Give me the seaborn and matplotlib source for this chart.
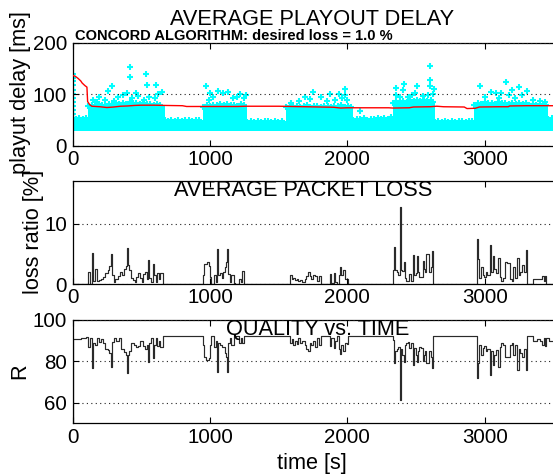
import matplotlib
matplotlib.use('Agg')
import matplotlib.pyplot as plt
import seaborn as sns

# ---------------- data ----------------
x_ticks = [0, 1000, 2000, 3000]

# playout delay: dense packet-delay band (upper envelope of the cyan cloud) + sparse individual delays
band_t = [0, 25, 50, 75, 100,
          115, 140, 165, 190, 215, 240, 265, 290, 315, 340, 365, 390, 415, 440, 465, 490, 515, 540, 565, 590, 615, 640,
          670, 695, 720, 745, 770, 795, 820, 845, 870, 895, 920,
          950, 975, 1000, 1025, 1050, 1075, 1100, 1125, 1150, 1175, 1200, 1225, 1250,
          1272, 1297, 1322, 1347, 1372, 1397, 1422, 1447, 1472, 1497, 1522,
          1556, 1581, 1606, 1631, 1656, 1681, 1706, 1731, 1756, 1781, 1806, 1831, 1856, 1881, 1906, 1931, 1956, 1981, 2006, 2025,
          2044, 2069, 2094, 2119, 2144, 2169, 2194, 2219, 2244, 2269, 2294, 2315,
          2331, 2356, 2381, 2406, 2431, 2456, 2481, 2506, 2531, 2556, 2581, 2606, 2620,
          2635, 2660, 2685, 2710, 2735, 2760, 2785, 2810, 2835, 2860, 2885, 2905,
          2924, 2949, 2974, 2999, 3024, 3049, 3074, 3099, 3124, 3149, 3174, 3199, 3224, 3249, 3274, 3299, 3324, 3349, 3374, 3399, 3424, 3445,
          3460, 3485, 3500]
band_top = [55, 52, 54, 53, 55,
            77, 80, 78, 81, 79, 78, 82, 80, 83, 81, 84, 82, 85, 83, 84, 82, 83, 81, 82, 80, 81, 79,
            50, 48, 51, 49, 50, 48, 51, 50, 49, 51, 50,
            76, 79, 78, 80, 79, 81, 80, 82, 79, 80, 78, 81, 79,
            47, 49, 46, 48, 47, 49, 48, 46, 49, 47, 48,
            75, 77, 76, 78, 76, 77, 79, 76, 78, 77, 76, 78, 77, 76, 78, 77, 79, 76, 77, 75,
            51, 53, 52, 54, 51, 53, 52, 55, 53, 54, 52, 56,
            84, 87, 85, 88, 86, 89, 87, 90, 88, 89, 87, 90, 86,
            46, 48, 47, 49, 46, 48, 47, 49, 48, 47, 49, 48,
            80, 83, 82, 85, 83, 84, 82, 85, 83, 84, 82, 83, 81, 84, 82, 83, 80, 82, 80, 81, 79, 80,
            52, 54, 53]
band_low = 30

pts_t = [3, 3, 5, 3, 6, 3, 5, 7, 3, 5, 4,
         419, 419, 536, 609, 543, 652, 286, 256, 397, 463, 193, 147, 330, 370, 480, 560, 620, 240, 300, 430, 600, 520, 180,
         973, 1058, 1131, 997, 1216, 1265, 1094, 1168, 1020, 1200, 990, 1250,
         1593, 1690, 1726, 1753, 1806, 1875, 1940, 1984, 1984, 2000, 1911, 1650, 1850, 1960,
         2093,
         2353, 2409, 2405, 2353, 2470, 2506, 2598, 2598, 2598, 2628, 2586, 2489, 2380, 2440, 2550, 2620,
         2961, 3048, 3082, 3119, 3157, 3194, 3247, 3303, 3271, 3174, 3000, 3100, 3220, 3350, 3400, 3440]
pts_v = [140, 132, 125, 118, 108, 100, 92, 85, 78, 70, 62,
         152, 134, 139, 118, 118, 104.5, 116.8, 107, 102, 103, 95.5, 89, 95, 98, 96, 95, 100, 90, 88, 92, 92, 90, 85,
         117, 107, 104, 102, 101, 99.5, 102, 92.5, 95, 95, 90, 92,
         82.6, 94, 91, 105, 95.5, 100.7, 100.7, 109.6, 99, 89, 90, 88, 88, 92,
         68.4,
         113, 121, 108, 99, 99, 116.6, 155.5, 127.8, 116, 109.6, 99, 103, 95, 95, 97, 100,
         116.6, 103.6, 102.4, 102.4, 123.5, 108.6, 115, 107, 99, 99, 95, 92, 93, 90, 88, 85]

avg_t = [0, 20, 40, 60, 70, 90, 105, 110, 125, 140, 200, 250, 300, 350, 400, 450, 500, 600, 680,
         800, 830, 1000, 1200, 1260, 1500, 1700, 1900, 1950, 2000, 2100, 2300, 2330, 2450, 2480,
         2600, 2650, 2700, 2850, 2870, 2930, 2960, 3100, 3170, 3180, 3300, 3500]
avg_v = [137, 135, 131, 126, 122, 117, 114, 86, 80, 77, 76, 74.5, 75.5, 77, 77.5, 78.5, 79, 79, 78.5,
         78, 76.5, 76.5, 76.5, 77, 77, 76, 75, 73.5, 74, 74, 74, 73.5, 74, 75.5,
         76, 77, 76, 75.5, 72.5, 73, 75.5, 76, 76, 77.5, 78, 78]

# packet loss ratio [%]
loss_t = [0, 112, 125, 143, 150, 163, 175, 190, 208, 222, 240, 255, 268, 282, 290, 300, 312, 330, 348, 360,
          372, 388, 395, 402, 412, 422, 440, 455, 465, 475, 490, 505, 515, 528, 540, 550, 557, 570, 585,
          593, 605, 615, 628, 640, 660,
          950, 960, 975, 990, 1000, 1010, 1032, 1046, 1052, 1060, 1072, 1086, 1096, 1106, 1116, 1126, 1134,
          1144, 1152, 1172, 1182, 1214, 1226, 1236, 1246,
          1582, 1596, 1606, 1618, 1632, 1644, 1658, 1672, 1690, 1700, 1712, 1728, 1738, 1752, 1766, 1780,
          1792, 1806, 1870, 1880, 1900, 1910, 1925, 1938, 1946, 1956, 1970, 1980, 1996, 2006,
          2331, 2340, 2348, 2358, 2370, 2384, 2391, 2400, 2410, 2418, 2428, 2440, 2450, 2466, 2474, 2482,
          2496, 2504, 2512, 2520, 2535, 2548, 2558, 2566, 2574, 2590, 2605, 2614, 2624,
          2940, 2950, 2960, 2972, 2985, 2995, 3005, 3018, 3038, 3048, 3060, 3068, 3080, 3098, 3108, 3118,
          3130, 3146, 3160, 3182, 3195, 3208, 3222, 3236, 3246, 3258, 3270, 3285, 3296, 3306, 3348, 3380,
          3400, 3414, 3432, 3440, 3448, 3500]
loss_v = [0, 2.1, 0, 5.2, 0.5, 2.5, 0.6, 0.7, 0.8, 1.2, 1.8, 2.4, 3.0, 5.0, 1.6, 0.4, 0.9, 1.4, 2.0, 1.5,
          2.5, 3.0, 6.0, 3.2, 2.4, 1.0, 0.7, 0.3, 1.2, 1.9, 1.0, 0.4, 1.7, 2.0, 0.9, 4.0, 1.0, 0.4, 3.4,
          1.5, 0.3, 1.8, 0.8, 1.9, 0,
          1.5, 3.4, 3.7, 3.0, 1.2, 0, 1.5, 0.4, 5.8, 1.6, 1.8, 1.0, 2.0, 2.8, 3.6, 5.8, 1.7,
          0.3, 1.5, 0.2, 0, 0.9, 0.4, 2.2, 0,
          1.5, 0.8, 1.0, 0.7, 0.9, 0.5, 0.7, 0.4, 0.8, 1.3, 2.0, 1.4, 0.9, 1.5, 1.3, 0.6,
          1.3, 0, 1.7, 0.2, 1.8, 0.4, 0, 1.6, 2.8, 1.5, 2.3, 0.9, 0.8, 0,
          2.4, 6.2, 2.4, 2.1, 1.5, 12.8, 2.4, 2.2, 3.6, 1.0, 0.5, 0.5, 1.7, 0.6, 4.9, 1.5,
          1.8, 4.6, 2.0, 1.2, 1.2, 3.9, 2.5, 2.0, 5.0, 2.0, 2.8, 5.4, 0,
          7.5, 4.1, 1.0, 2.9, 1.5, 1.2, 2.1, 1.5, 6.4, 2.0, 4.6, 2.5, 1.8, 4.4, 1.2, 0.5,
          1.0, 3.7, 3.5, 0.8, 0.5, 2.9, 1.0, 4.4, 1.5, 2.0, 3.1, 2.0, 5.6, 0, 0.9, 0.8,
          0.9, 1.3, 0.6, 1.4, 0, 0]

# quality R
r_t = [0, 3, 60, 100, 112, 125, 140, 150, 165, 176, 190, 208, 222, 240, 255, 268, 282, 290, 305, 320,
       340, 355, 372, 388, 395, 402, 414, 426, 451, 463, 475, 490, 510, 528, 540, 550, 557, 570, 585,
       593, 605, 615, 630, 640, 660,
       950, 958, 968, 990, 1000, 1010, 1032, 1046, 1052, 1060, 1072, 1090, 1106, 1116, 1126, 1134, 1144,
       1152, 1172, 1182, 1214, 1226, 1236, 1246,
       1582, 1596, 1606, 1618, 1632, 1644, 1658, 1672, 1690, 1700, 1712, 1728, 1738, 1752, 1766, 1780,
       1792, 1806, 1870, 1880, 1900, 1910, 1925, 1938, 1946, 1956, 1970, 1980, 1996, 2006,
       2331, 2340, 2348, 2358, 2370, 2384, 2391, 2400, 2410, 2418, 2428, 2440, 2450, 2466, 2474, 2482,
       2496, 2504, 2512, 2520, 2535, 2548, 2558, 2566, 2574, 2590, 2605, 2614, 2624,
       2940, 2950, 2960, 2972, 2985, 2995, 3005, 3018, 3038, 3048, 3060, 3068, 3080, 3098, 3108, 3118,
       3130, 3146, 3160, 3182, 3195, 3208, 3222, 3236, 3246, 3258, 3270, 3285, 3296, 3306, 3348, 3380,
       3400, 3414, 3432, 3440, 3448, 3470, 3500]
r_v = [50, 90.5, 91, 91.5, 87, 91, 76.6, 89, 88, 91, 89.5, 90.5, 89, 86, 85.5, 84, 77, 89.5, 91, 90,
       91, 86, 84.5, 83, 74.5, 83, 85, 88.7, 88, 87, 87.5, 90, 87.5, 86, 88, 79.5, 89, 91, 81.5,
       88, 91, 87.5, 90, 87, 92.3,
       88, 82, 80.6, 81.5, 88, 92, 87, 90, 75, 89, 88, 87, 84, 82, 75, 89, 91,
       88, 92, 92.3, 89, 91, 88.7, 92.3,
       89, 90.5, 88, 90, 88.5, 91, 89, 90, 88, 86, 85, 89, 88, 90, 87, 91,
       88, 92.3, 87.5, 91, 86.5, 90, 92.3, 86, 83.5, 88, 85, 89, 88.5, 92.3,
       90.3, 79, 85, 86, 87, 61.5, 86, 83, 79.5, 88, 89, 89.5, 86.5, 89, 78, 86.5,
       83, 79.5, 85, 87, 86.5, 80, 83, 85, 79, 85, 82, 76.6, 92.3,
       71.8, 79, 88, 83, 86.5, 87.5, 85, 86, 73.4, 85, 78, 83, 85.5, 77, 87, 89,
       88, 82, 82, 88, 89, 83, 88, 75.8, 86, 84, 82, 86, 76, 92, 90, 90.5,
       90, 88, 91, 87.5, 91, 90, 90]

# ---------------- style ----------------
sns.set_theme(style='white')
plt.rcParams['font.family'] = ['Liberation Sans', 'DejaVu Sans']
plt.rcParams['text.color'] = 'black'
plt.rcParams['axes.labelcolor'] = 'black'
plt.rcParams['xtick.color'] = 'black'
plt.rcParams['ytick.color'] = 'black'

W, H = 553, 475
fig = plt.figure(figsize=(W / 100, H / 100), dpi=100)
fig.patch.set_facecolor('white')


def axpos(top, bottom, left=72.5, right=553.6):
    return [left / W, 1 - bottom / H, (right - left) / W, (bottom - top) / H]


ax1 = fig.add_axes(axpos(42.7, 146.0))
ax2 = fig.add_axes(axpos(181.0, 284.3))
ax3 = fig.add_axes(axpos(319.8, 423.4))

TICK_FS = 14.8
TITLE_FS = 15.7
LINE_C = '#2a2a2a'
CYAN = '#00FFFF'

# top: delay
ax1.fill_between(band_t, band_low, band_top, step='post', color=CYAN, lw=0, zorder=1)
sns.scatterplot(x=band_t, y=band_top, marker='+', s=14, color=CYAN, linewidth=1.5, ax=ax1, zorder=1)
sns.scatterplot(x=pts_t, y=pts_v, marker='+', s=14, color=CYAN, linewidth=1.5, ax=ax1, zorder=2)
sns.lineplot(x=avg_t, y=avg_v, color='#FF0000', lw=1.0, ax=ax1, estimator=None, sort=False, zorder=3)
ax1.set_ylim(0, 200)
ax1.set_yticks([0, 100, 200])

# middle: loss
sns.lineplot(x=loss_t, y=loss_v, color=LINE_C, lw=0.85, ax=ax2, estimator=None, sort=False,
             drawstyle='steps-post')
ax2.set_ylim(0, 17)
ax2.set_yticks([0, 10])

# bottom: R
sns.lineplot(x=r_t, y=r_v, color=LINE_C, lw=0.85, ax=ax3, estimator=None, sort=False,
             drawstyle='steps-post')
ax3.set_ylim(50, 100)
ax3.set_yticks([60, 80, 100])

for ax in (ax1, ax2, ax3):
    ax.set_xlim(0, 3500)
    ax.set_xticks(x_ticks)
    ax.set_xticklabels([str(v) for v in x_ticks])
    ax.set_xlabel('')
    ax.set_ylabel('')
    ax.set_facecolor('white')
    ax.yaxis.grid(True, linestyle=(0, (1, 3)), color='#222222', lw=0.8)
    ax.xaxis.grid(False)
    ax.set_axisbelow(False)
    for s in ax.spines.values():
        s.set_color('black')
        s.set_linewidth(0.9)
    ax.spines['right'].set_visible(False)
    ax.tick_params(axis='both', direction='in', length=4, width=0.8, color='black',
                   labelsize=TICK_FS, labelcolor='black', top=True, bottom=True, left=True, right=False)
    ax.tick_params(axis='x', pad=3)
    ax.tick_params(axis='y', pad=4)
    if ax.get_legend():
        ax.get_legend().remove()


def px(x, y):
    return x / W, 1 - y / H


fig.text(*px(312, 25), 'AVERAGE PLAYOUT DELAY', ha='center', va='baseline', fontsize=TITLE_FS)
fig.text(*px(75, 39.5), 'CONCORD ALGORITHM: desired loss = 1.0 %', ha='left', va='baseline',
         fontsize=10.5, fontweight='bold')
fig.text(*px(303, 195.5), 'AVERAGE PACKET LOSS', ha='center', va='baseline', fontsize=TITLE_FS)
fig.text(*px(318, 334.5), 'QUALITY vs. TIME', ha='center', va='baseline', fontsize=TITLE_FS)

fig.text(*px(21, 93), 'playut delay [ms]', rotation=90, ha='center', va='center', fontsize=TITLE_FS)
fig.text(*px(33, 232), 'loss ratio [%]', rotation=90, ha='center', va='center', fontsize=TITLE_FS)
fig.text(*px(20, 371), 'R', rotation=90, ha='center', va='center', fontsize=TITLE_FS)
fig.text(*px(312, 469), 'time [s]', ha='center', va='baseline', fontsize=TITLE_FS)

fig.savefig('out.png', dpi=100)
